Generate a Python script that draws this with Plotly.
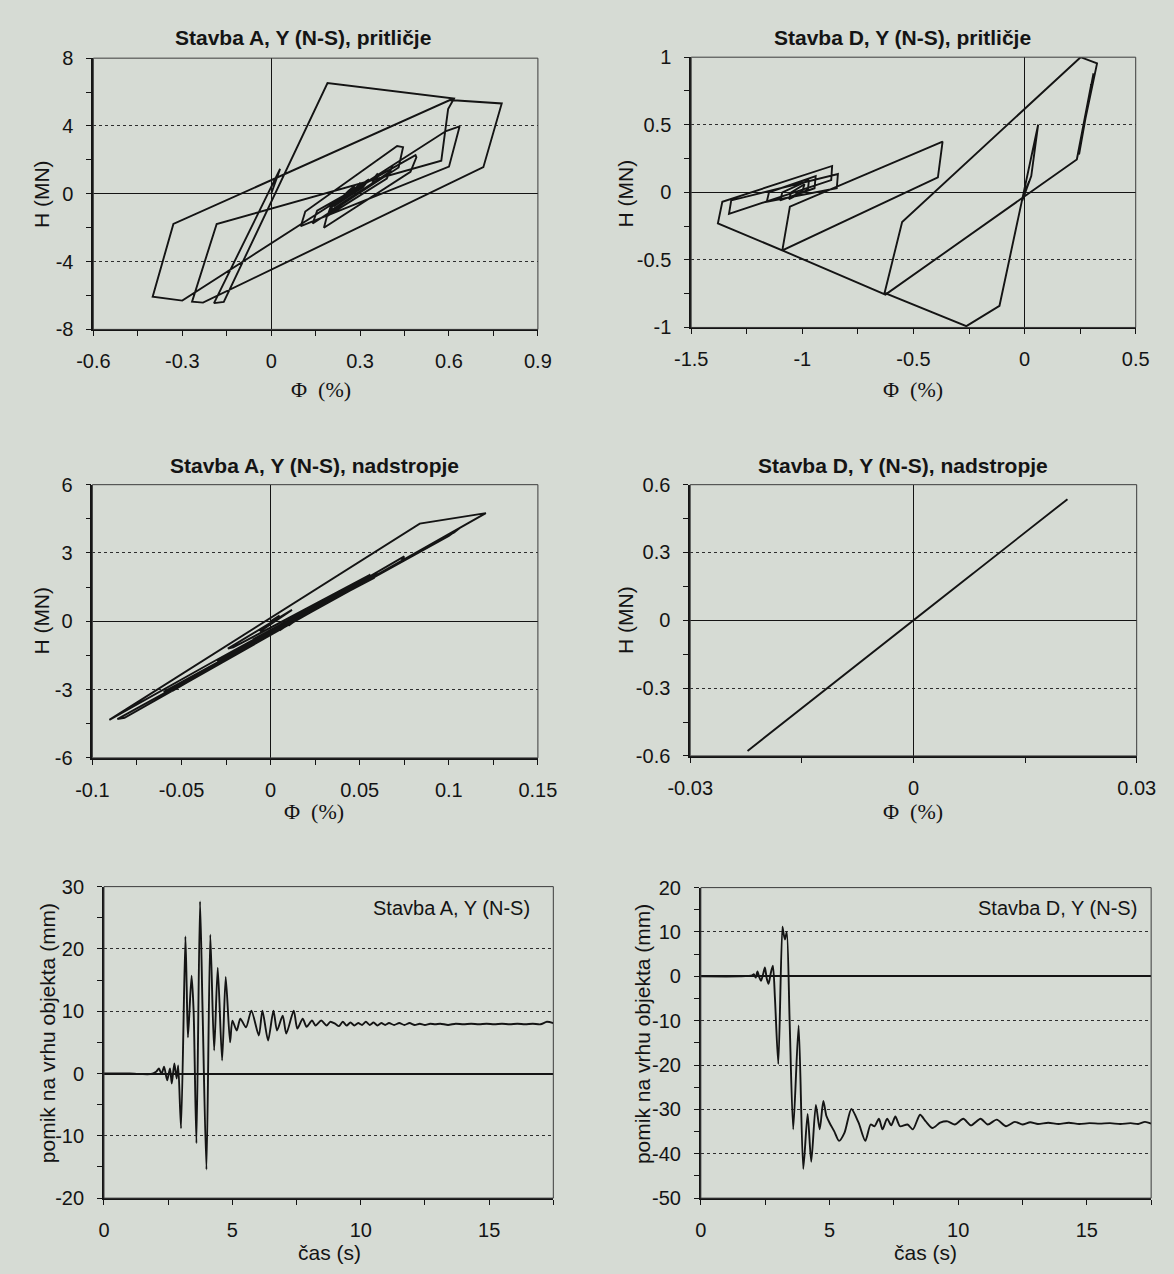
import plotly.graph_objects as go

# ---------------- data ----------------
# Stavba A, Y (N-S), pritlicje : drift phi (%) vs shear H (MN)
phi_A_gf = [0.00, 0.03, -0.193, -0.16, 0.19, 0.617, 0.597, 0.574, -0.184, -0.267, -0.23, 0.716, 0.778,
            0.603, -0.33, -0.40, -0.30, 0.59, 0.636, 0.60, 0.10, 0.115, 0.425, 0.445, 0.43, 0.14, 0.155,
            0.487, 0.49, 0.47, 0.178, 0.19, 0.40, 0.41, 0.39, 0.19, 0.20, 0.35, 0.36, 0.34, 0.20, 0.21,
            0.32, 0.33, 0.31, 0.21, 0.22, 0.30, 0.30, 0.29, 0.22, 0.23, 0.28, 0.28, 0.26, 0.24, 0.25]
H_A_gf = [0.00, 1.47, -6.45, -6.38, 6.53, 5.62, 5.00, 1.95, -1.78, -6.36, -6.42, 1.57, 5.33,
          5.53, -1.78, -6.07, -6.30, 3.70, 3.98, 1.60, -1.91, -1.05, 2.82, 2.75, 1.55, -1.75, -1.00,
          2.28, 2.15, 1.30, -2.00, -1.20, 1.30, 1.65, 0.90, -1.30, -0.80, 1.00, 1.20, 0.60, -1.00, -0.60,
          0.70, 0.85, 0.40, -0.75, -0.45, 0.55, 0.65, 0.30, -0.55, -0.35, 0.40, 0.45, 0.15, -0.20, 0.00]

# Stavba D, Y (N-S), pritlicje
phi_D_gf = [0.00, 0.02, -0.01, 0.03, 0.061, -0.113, -0.262, -0.63, -0.551, 0.252, 0.326, 0.235, 0.30,
            0.245, 0.31, 0.235, -0.626, -1.09, -1.056, -0.369, -0.39, -1.09, -1.38, -1.36, -0.866, -0.87,
            -1.33, -1.32, -0.84, -0.845, -1.16, -1.15, -0.94, -0.945, -1.10, -1.09, -0.97, -0.975, -1.06,
            -1.05, -0.99, -1.00, -1.04, -1.02]
H_D_gf = [0.00, 0.08, -0.06, 0.12, 0.50, -0.84, -0.99, -0.745, -0.22, 1.00, 0.954, 0.243, 0.80,
          0.28, 0.88, 0.243, -0.757, -0.43, -0.106, 0.376, 0.11, -0.43, -0.23, -0.07, 0.195, 0.09,
          -0.16, -0.06, 0.135, 0.03, -0.07, 0.00, 0.12, 0.03, -0.06, 0.00, 0.09, 0.02, -0.05,
          0.00, 0.06, 0.01, -0.03, 0.00]

# Stavba A, Y (N-S), nadstropje
phi_A_uf = [0.000, 0.005, -0.006, 0.012, -0.024, -0.021, 0.056, 0.052, -0.035, -0.0905, 0.0837, 0.1208,
            -0.082, -0.086, 0.100, 0.1065, 0.103, -0.060, -0.055, 0.075, 0.073, -0.030, -0.027, 0.060,
            0.058, -0.015, 0.045, 0.040, -0.010, 0.035, 0.030, 0.000, 0.028, 0.022, 0.005, 0.022, 0.010,
            0.018, 0.012]
H_A_uf = [0.00, 0.25, -0.45, 0.50, -1.20, -1.15, 2.05, 1.85, -1.90, -4.33, 4.29, 4.75,
          -4.24, -4.30, 3.75, 4.12, 3.90, -3.10, -3.05, 2.85, 2.60, -1.75, -1.70, 2.10,
          1.90, -1.10, 1.50, 1.30, -0.80, 1.00, 0.80, -0.60, 0.70, 0.50, -0.40, 0.50, -0.20,
          0.30, 0.00]

# Stavba D, Y (N-S), nadstropje
phi_D_uf = [0.000, 0.004, -0.006, 0.010, -0.014, 0.0207, -0.0223, 0.008, -0.004, 0.000]
H_D_uf = [0.000, 0.104, -0.155, 0.259, -0.363, 0.536, -0.578, 0.207, -0.104, 0.000]

# top displacement time histories (mm)
t_A = [0.0, 1.0, 1.8, 2.03, 2.14, 2.24, 2.34, 2.46, 2.57, 2.64, 2.74, 2.83, 2.89, 3.00, 3.17, 3.22, 3.27,
       3.41, 3.49, 3.60, 3.74, 3.84, 3.99, 4.14, 4.29, 4.43, 4.60, 4.74, 4.91, 5.00, 5.17, 5.31, 5.53,
       5.74, 6.03, 6.17, 6.39, 6.60, 6.74, 6.96, 7.10, 7.39, 7.53, 7.74, 7.89, 8.10, 8.24, 8.46, 8.67,
       8.81, 9.00, 9.15, 9.30, 9.45, 9.60, 9.75, 9.90, 10.05, 10.2, 10.35, 10.5, 10.65, 10.8, 10.95,
       11.1, 11.3, 11.5, 11.7, 11.9, 12.1, 12.3, 12.5, 12.7, 12.9, 13.1, 13.4, 13.7, 14.0, 14.3, 14.6,
       14.9, 15.2, 15.5, 15.8, 16.1, 16.4, 16.7, 17.0, 17.25, 17.5]
u_A = [0.0, 0.0, -0.1, 0.3, 0.8, -0.1, 1.1, -1.1, 0.8, -1.6, 1.6, -0.8, 1.3, -8.8, 22.0, 14.0, 5.8,
       15.7, 10.1, -11.2, 27.6, 10.0, -15.4, 22.3, 3.7, 17.0, 2.1, 15.5, 5.0, 8.5, 6.9, 8.8, 7.4,
       10.1, 6.1, 10.1, 5.3, 10.1, 6.9, 9.3, 6.4, 10.1, 7.2, 8.8, 7.5, 8.5, 7.7, 8.5, 7.7,
       8.3, 8.0, 7.6, 8.3, 7.7, 8.2, 7.7, 8.1, 7.8, 8.3, 7.8, 8.2, 7.7, 8.1, 7.8,
       8.1, 7.8, 8.1, 7.8, 8.1, 7.8, 8.0, 7.8, 8.0, 7.9, 8.0, 7.8, 8.0, 7.9, 8.0, 7.9,
       8.0, 7.9, 8.0, 7.9, 8.0, 7.9, 8.0, 7.9, 8.3, 8.1]

t_D = [0.0, 1.5, 2.0, 2.06, 2.13, 2.20, 2.27, 2.34, 2.42, 2.49, 2.56, 2.63, 2.72, 2.80, 2.88, 3.01, 3.17,
       3.22, 3.27, 3.34, 3.45, 3.59, 3.80, 3.98, 4.15, 4.29, 4.47, 4.62, 4.76, 4.88, 5.0, 5.18, 5.37,
       5.58, 5.85, 6.13, 6.39, 6.60, 6.75, 6.92, 7.06, 7.24, 7.40, 7.56, 7.74, 8.03, 8.24, 8.52, 8.74,
       9.0, 9.3, 9.59, 9.87, 10.2, 10.5, 10.87, 11.15, 11.5, 11.86, 12.2, 12.5, 12.8, 13.1, 13.5, 13.9,
       14.3, 14.7, 15.1, 15.5, 15.9, 16.3, 16.7, 17.0, 17.26, 17.5]
u_D = [0.0, 0.0, 0.2, 0.5, -0.3, 1.1, -0.2, -1.0, 0.5, 2.0, -0.5, -1.7, 0.8, 2.4, -5.0, -19.8, 11.2,
       9.5, 8.3, 10.0, -10.0, -34.5, -11.1, -43.4, -31.0, -41.8, -29.0, -34.5, -28.1, -31.5, -33.0, -34.9, -37.1,
       -35.3, -29.9, -33.0, -37.1, -33.4, -33.8, -32.1, -34.5, -32.1, -33.6, -31.6, -33.8, -33.4, -34.5, -31.2, -32.7,
       -34.2, -33.0, -32.7, -33.4, -32.1, -33.6, -32.1, -33.4, -32.3, -33.8, -32.8, -33.4, -32.9, -33.3, -33.0, -33.3,
       -33.0, -33.3, -33.1, -33.2, -33.1, -33.3, -33.1, -33.3, -32.8, -33.2]

# tick labels
xt1 = [-0.6, -0.3, 0, 0.3, 0.6, 0.9]; xl1 = ["-0.6", "-0.3", "0", "0.3", "0.6", "0.9"]
yt1 = [-8, -4, 0, 4, 8]; yl1 = ["-8", "-4", "0", "4", "8"]
xt2 = [-1.5, -1, -0.5, 0, 0.5]; xl2 = ["-1.5", "-1", "-0.5", "0", "0.5"]
yt2 = [-1, -0.5, 0, 0.5, 1]; yl2 = ["-1", "-0.5", "0", "0.5", "1"]
xt3 = [-0.1, -0.05, 0, 0.05, 0.1, 0.15]; xl3 = ["-0.1", "-0.05", "0", "0.05", "0.1", "0.15"]
yt3 = [-6, -3, 0, 3, 6]; yl3 = ["-6", "-3", "0", "3", "6"]
xt4 = [-0.03, 0, 0.03]; xl4 = ["-0.03", "0", "0.03"]
yt4 = [-0.6, -0.3, 0, 0.3, 0.6]; yl4 = ["-0.6", "-0.3", "0", "0.3", "0.6"]
xt5 = [0, 5, 10, 15]; xl5 = ["0", "5", "10", "15"]
yt5 = [-20, -10, 0, 10, 20, 30]; yl5 = ["-20", "-10", "0", "10", "20", "30"]
yt6 = [-50, -40, -30, -20, -10, 0, 10, 20]; yl6 = ["-50", "-40", "-30", "-20", "-10", "0", "10", "20"]

# minor tick positions
mx1 = [-0.45, -0.15, 0.15, 0.45, 0.75]; my1 = [-6, -2, 2, 6]
mx2 = [-1.25, -0.75, -0.25, 0.25]; my2 = [-0.75, -0.25, 0.25, 0.75]
mx3 = [-0.075, -0.025, 0.025, 0.075, 0.125]; my3 = [-4.5, -1.5, 1.5, 4.5]
mx4 = [-0.015, 0.015]; my4 = [-0.45, -0.15, 0.15, 0.45]
mx5 = [2.5, 7.5, 12.5, 17.5]; my5 = [-15, -5, 5, 15, 25]
my6 = [-45, -35, -25, -15, -5, 5, 15]

titles = ["Stavba A, Y (N-S), pritličje", "Stavba D, Y (N-S), pritličje",
          "Stavba A, Y (N-S), nadstropje", "Stavba D, Y (N-S), nadstropje"]
inner_labels = ["Stavba A, Y (N-S)", "Stavba D, Y (N-S)"]

# ---------------- layout ----------------
W, Hh = 1174, 1274
FONT = "Liberation Sans, Arial, sans-serif"
SERIF = "Liberation Serif, Times New Roman, serif"
INK = "#141414"
PAPER = "#d6dbd4"

boxes = {1: (73, 534, 48, 324), 2: (693, 1154, 47, 322), 3: (72, 534, 482, 760),
         4: (692, 1155, 482, 758), 5: (84, 550, 891, 1208), 6: (703, 1170, 892, 1208)}
xr = {1: [-0.6, 0.9], 2: [-1.5, 0.5], 3: [-0.1, 0.15], 4: [-0.03, 0.03], 5: [0, 17.5], 6: [0, 17.5]}
yr = {1: [-8, 8], 2: [-1, 1], 3: [-6, 6], 4: [-0.6, 0.6], 5: [-20, 30], 6: [-50, 20]}
xticks = {1: (xt1, xl1, mx1), 2: (xt2, xl2, mx2), 3: (xt3, xl3, mx3), 4: (xt4, xl4, mx4),
          5: (xt5, xl5, mx5), 6: (xt5, xl5, mx5)}
yticks = {1: (yt1, yl1, my1), 2: (yt2, yl2, my2), 3: (yt3, yl3, my3), 4: (yt4, yl4, my4),
          5: (yt5, yl5, my5), 6: (yt6, yl6, my6)}

fig = go.Figure()
series = [(phi_A_gf, H_A_gf), (phi_D_gf, H_D_gf), (phi_A_uf, H_A_uf), (phi_D_uf, H_D_uf),
          (t_A, u_A), (t_D, u_D)]
for i, (xs, ys) in enumerate(series, start=1):
    sfx = "" if i == 1 else str(i)
    fig.add_trace(go.Scatter(
        x=xs, y=ys, mode="lines", xaxis="x" + sfx, yaxis="y" + sfx,
        line=dict(color=INK, width=1.9,
                  shape="linear" if i <= 4 else "spline", smoothing=0.7),
        hoverinfo="skip", showlegend=False))

layout = dict(width=W, height=Hh, margin=dict(l=0, r=0, t=0, b=0),
              paper_bgcolor=PAPER, plot_bgcolor=PAPER, showlegend=False,
              font=dict(family=FONT, color=INK, size=20))
shapes = []
for i in range(1, 7):
    sfx = "" if i == 1 else str(i)
    x0, x1, y0, y1 = boxes[i]
    tv, tt, mv = xticks[i]
    layout["xaxis" + sfx] = dict(
        domain=[x0 / W, x1 / W], range=xr[i], anchor="y" + sfx,
        tickmode="array", tickvals=tv, ticktext=tt,
        showgrid=False, zeroline=(i <= 4), zerolinecolor=INK, zerolinewidth=1,
        showline=True, linecolor=INK, linewidth=1.8,
        ticks="outside", ticklen=5, tickwidth=1.4, tickcolor=INK,
        minor=dict(tickmode="array", tickvals=mv, ticks="outside", ticklen=5, tickwidth=1.3,
                   tickcolor=INK, showgrid=False),
        tickfont=dict(size=20, family=FONT, color=INK), ticklabelstandoff=8,
        fixedrange=True)
    tv, tt, mv = yticks[i]
    layout["yaxis" + sfx] = dict(
        domain=[1 - y1 / Hh, 1 - y0 / Hh], range=yr[i], anchor="x" + sfx,
        tickmode="array", tickvals=tv, ticktext=tt,
        showgrid=True, gridcolor="#2e2e2e", griddash="dot", gridwidth=1,
        zeroline=True, zerolinecolor=INK, zerolinewidth=1.2 if i <= 4 else 1.8,
        showline=True, linecolor=INK, linewidth=1.8,
        ticks="outside", ticklen=5, tickwidth=1.4, tickcolor=INK,
        minor=dict(tickmode="array", tickvals=mv, ticks="outside", ticklen=5, tickwidth=1.3,
                   tickcolor=INK, showgrid=False),
        tickfont=dict(size=20, family=FONT, color=INK), ticklabelstandoff=9,
        fixedrange=True)
    shapes.append(dict(type="rect", xref="x" + sfx + " domain", yref="y" + sfx + " domain",
                       x0=0, x1=1, y0=0, y1=1, line=dict(color="#3c3c3c", width=1), layer="above"))

ann = []
def px(x, y):
    return x / W, 1 - y / Hh

title_pos = [(290, 27), (912, 27), (302, 462), (913, 462)]
for txt, (x, y) in zip(titles, title_pos):
    ax_, ay_ = px(x, y)
    ann.append(dict(text="<b>" + txt + "</b>", x=ax_, y=ay_, xref="paper", yref="paper",
                    showarrow=False, xanchor="center", yanchor="middle",
                    font=dict(size=21, family=FONT, color=INK)))

# x titles (phi)
for (x, y) in [(309, 385), (923, 385), (302, 815), (923, 815)]:
    ax_, ay_ = px(x, y)
    ann.append(dict(text="\u03a6\u00a0\u00a0(%)", x=ax_, y=ay_, xref="paper", yref="paper",
                    showarrow=False, xanchor="center", yanchor="middle",
                    font=dict(size=22, family=SERIF, color=INK)))
# y titles H (MN)
for (x, y) in [(19, 186), (625, 186), (19, 620), (625, 620)]:
    ax_, ay_ = px(x, y)
    ann.append(dict(text="H (MN)", x=ax_, y=ay_, xref="paper", yref="paper", textangle=-90,
                    showarrow=False, xanchor="center", yanchor="middle",
                    font=dict(size=21, family=FONT, color=INK)))
# time-history axis titles
for (x, y) in [(25, 1040), (642, 1041)]:
    ax_, ay_ = px(x, y)
    ann.append(dict(text="pomik na vrhu objekta (mm)", x=ax_, y=ay_, xref="paper", yref="paper",
                    textangle=-90, showarrow=False, xanchor="center", yanchor="middle",
                    font=dict(size=21, family=FONT, color=INK)))
for (x, y) in [(318, 1263), (936, 1263)]:
    ax_, ay_ = px(x, y)
    ann.append(dict(text="čas (s)", x=ax_, y=ay_, xref="paper", yref="paper",
                    showarrow=False, xanchor="center", yanchor="middle",
                    font=dict(size=21, family=FONT, color=INK)))
# inner labels
ax_, ay_ = px(444, 913)
ann.append(dict(text=inner_labels[0], x=ax_, y=ay_, xref="paper", yref="paper", showarrow=False,
                xanchor="center", yanchor="middle", font=dict(size=20, family=FONT, color=INK)))
ax_, ay_ = px(1157, 913)
ann.append(dict(text=inner_labels[1], x=ax_, y=ay_, xref="paper", yref="paper", showarrow=False,
                xanchor="right", yanchor="middle", font=dict(size=20, family=FONT, color=INK)))

layout["annotations"] = ann
layout["shapes"] = shapes
fig.update_layout(**layout)
fig.write_html("out.html")
